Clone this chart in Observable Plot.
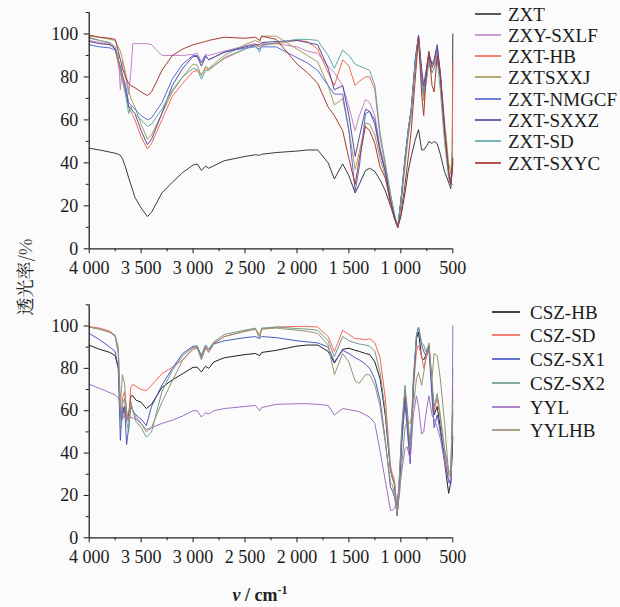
<!DOCTYPE html>
<html><head><meta charset="utf-8">
<script src="https://cdn.jsdelivr.net/npm/d3@7"></script>
<script src="https://cdn.jsdelivr.net/npm/@observablehq/plot@0.6"></script>
<style>
body{margin:0;background:#fbfbfb;}
#wrap{position:relative;width:620px;height:607px;font-family:"Liberation Serif",serif;color:#222;overflow:hidden;}
#wrap svg{position:absolute;left:0;display:block;}
#wrap svg text{font-family:"Liberation Serif",serif;}
.leg{position:absolute;display:flex;align-items:center;font-size:19px;line-height:1;white-space:nowrap;color:#1a1a1a;}
.leg .sw{display:inline-block;}
.ylab{position:absolute;font-size:18px;white-space:nowrap;transform:translate(-50%,-50%) rotate(-90deg);font-family:"Noto Serif CJK SC","Liberation Serif",serif;}
.xlab{position:absolute;font-size:18px;font-weight:bold;white-space:nowrap;transform:translate(-50%,-50%);}
</style></head>
<body><div id="wrap"></div>
<script>
// ---------- top panel ----------
const wnTop = [4000,3900,3800,3750,3720,3700,3680,3650,3620,3600,3580,3560,3500,3440,3400,3300,3200,3100,3000,2960,2920,2880,2850,2700,2500,2400,2360,2340,2200,2000,1900,1800,1700,1640,1560,1500,1440,1400,1340,1300,1250,1200,1150,1100,1060,1030,1000,960,930,900,860,830,800,780,750,730,700,680,650,620,580,540,520,505,500];
const ZXT = [46.8,46,45,44.5,44,43.5,42,38,33,30, 27,24,19,15,17,26,31,35.5,39,39.5, 36.5,38.5,37.5,41,43,43.8,43.5,44,44.8,45.5, 46,46,40,32.5,39.5,34,26,30,36.5,37.5, 36,32,27,20,14,10,15,26,36,43, 51,55.5,46,46,48,50,49,50,49,44, 36,31,28,45,100];
const ZXY_SXLF = [97,96,95,94,90,74,88,80,72,82, 95.5,95.5,95.5,95.5,95,90,90,90,90.5,91, 87,90.5,90,92,94.5,95.5,94,95.5,95.5,94, 92,91,85,82,76,66,55,62,69.5,68, 62,47,37,23,15,10,22,40,53,64, 88,99,82,74,84,91,84,86,93,82, 56,36,30,35,40];
const ZXT_HB = [98,97,95.5,93,86,82,78,72,66,64, 62,60,52,46.5,49,60,71,77,82.5,83, 81,84,83.5,88.5,93,95,94,95,95.5,97, 96.5,93,82,76,88,85,76,78,80,80, 74,52,39,24,15,10,22,42,55,65, 88,99,80,70,82,90,84,86,93,80, 55,35,30,40,87];
const ZXTSXXJ = [99,98.5,97.5,97,94,92,88,82,74,70, 68,66,58,51,53,63,73,80,86,85.5, 80.5,85,84,90,95,97,96,99,99,93, 90,87,76,67,70,55,37,45,58.5,58, 53,42,34,21,14,10,20,38,52,62, 86,98,78,69,80,88,82,84,90,82, 60,40,35,45,50];
const ZXT_NMGCF = [95,94,93.5,92.5,88,85,81,76,68,67, 66,65,62,60,61,68,79,86,90,90, 86.5,90,88,91.5,93.5,94,93,94,94,89, 86.5,83,76,72,72,55,27,38,63,64, 60,46,36,22,14,10,22,42,55,65, 89,99,80,72,83,91,85,87,94,80, 55,35,30,38,42];
const ZXT_SXXZ = [96.5,95.5,95,93,88,84,80,74,66,66, 64,63,55,48.5,51,63,76,84,89.5,89.5, 85,89.5,88,91.5,94,95,95,96,96.5,97, 96,95,84,74,76,62,43,52,65,64, 58,45,36,22,14,10,22,42,55,65, 88,99.5,84,76,85,91,86,88,95,82, 56,35,30,36,40];
const ZXT_SD = [98.5,97,96,94,88,84,80,72,63,66, 64,63,60,57,58,65,74,80,84,83.5, 79,83,83,89,93,94.5,91.5,94.5,96,97.5, 97.5,97,90,84,92.5,90,86,85,84,83, 76,54,40,26,16,10,22,42,55,65, 87,98,78,72,80,86,82,84,88,74, 50,33,29,30,30];
const ZXT_SXYC = [99.5,98.5,98,97.5,92,88,84,80,77,76, 75.5,75,73,71.3,73,83,90,93,95,95.5, 96,96.5,97,98.5,98,98.5,97,99,97.5,86, 82,77,66,62,55,42,30,42,57,55, 49,38,33,22,15,10,16,30,42,55, 80,98,72,62,85,92,76,73,90,80, 56,36,30,38,42];
const topNames = ["ZXT","ZXY-SXLF","ZXT-HB","ZXTSXXJ","ZXT-NMGCF","ZXT-SXXZ","ZXT-SD","ZXT-SXYC"];
const topSeries = [ZXT,ZXY_SXLF,ZXT_HB,ZXTSXXJ,ZXT_NMGCF,ZXT_SXXZ,ZXT_SD,ZXT_SXYC];
const topColors = ["#3a3a3a","#c386c6","#f26a55","#aa9d5e","#5a6ad2","#5a4c9c","#5ea9a9","#a83a30"];

// ---------- bottom panel ----------
const wnBot = [4000,3900,3800,3750,3720,3700,3690,3680,3660,3640,3620,3600,3580,3550,3500,3450,3400,3300,3200,3100,3000,2960,2920,2880,2850,2800,2700,2500,2400,2360,2340,2200,2000,1900,1800,1700,1640,1560,1500,1440,1400,1340,1300,1250,1200,1150,1100,1080,1060,1035,1010,990,960,940,910,880,850,830,800,780,760,730,700,680,650,620,580,540,520,505,500];
const CSZ_HB = [90.9,89,87.5,86,80,60,55,60,62,56, 58,67,67,65,64,61,63,71,74.5,77.5, 80.5,80.5,78.3,81,80,83,85,86.5,87,86, 87.5,88.5,90.5,91,91,88,82.5,89,89.5,88.5, 88,87,86.5,83,75,58,32,28,25,10.5, 30,50,68,58,38,72,94,97,85,84, 86,91,72,58,62,52,36,21,26,40, 48];
const CSZ_SD = [99.7,99,97.5,95.5,88,60,58,66,69,60, 55,71,72.5,71.5,70,69.5,72,77.5,80.5,84, 89.5,90,85,90,88,92,95,97.5,98.5,96, 98.5,99.5,99.8,99.8,99.5,95,88,98,96,94, 94,93.5,94,92,85,66,34,30,27,12, 32,52,70,60,40,70,88,91,86,80, 84,89,72,60,66,56,42,30,30,55, 70];
const CSZ_SX1 = [96.5,93.5,90,88,80,46,55,57,62,44, 52,62,60,58,56,53,62,72,80,87, 90.5,90.5,86,91,89,91.5,93,94.5,95,94, 95,94.5,93,92.5,92,90,83,88.5,87,85, 84,82,80,75,65,46,24,22,19,11, 25,45,64,52,35,72,95,99.5,91,88, 86,90,66,52,58,50,38,27,25,45, 60];
const CSZ_SX2 = [99.5,98.5,97,95,87,58,52,63,66,55, 50,64,60,55,52,47.5,50,69,79,86, 90,90.5,85,91,89,92.5,96,98,99,94, 99,99.5,98.8,98.5,98,93,85.5,95,93,92, 91.5,91,90.5,88,78,60,32,28,25,11, 33,53,72,62,42,75,96,99.5,92,91, 88,91,74,62,68,58,42,32,30,60, 80];
const YYL = [72.5,70.5,68.5,67.5,66,63,60,56,58,55, 56,57,56.5,56,54,51,52,54,55.5,57.5, 60,60,57,59,58.5,60,61,62,62.5,60, 61.5,63,63.3,63.3,63,62.5,58,61,60.5,60, 59.5,58,57,54,41,27,13,13,14,18, 25,32,42,43,37,58,67,62,49,50, 58,67,58,56,52,47,36,26,28,50, 100];
const YYLHB = [99.5,98.5,97,95.5,90,62,70,77,73,58, 55,64,60,57,54,50,52,64,74,84, 89,89.5,84,89.5,87.5,91.5,95,97.5,98.5,95, 98.5,99,98,97.5,96.5,91,77,87,83,74, 73,77,77,72,62,45,26,25,20,12, 22,35,52,55,54,62,75,78,72,78, 85,92,75,87,86,75,55,30,28,55, 65];
const botNames = ["CSZ-HB","CSZ-SD","CSZ-SX1","CSZ-SX2","YYL","YYLHB"];
const botSeries = [CSZ_HB,CSZ_SD,CSZ_SX1,CSZ_SX2,YYL,YYLHB];
const botColors = ["#222222","#f46a5a","#4a58c4","#6e9a8e","#a070c0","#9a9272"];

// ---------- axes ticks ----------
const xMajor = [4000,3500,3000,2500,2000,1500,1000,500];
const xMinor = [3750,3250,2750,2250,1750,1250,750];
const yMajor = [0,20,40,60,80,100];
const yMinor = [10,30,50,70,90,110];
const yTitle = "透光率/%";

function tidy(grid, names, series) {
  return names.flatMap((n, i) => grid.map((v, j) => ({v, t: series[i][j], s: n})));
}
const fmt = d => d >= 1000 ? `${Math.floor(d/1000)} ${String(d % 1000).padStart(3, "0")}` : String(d);

function panel(data, names, colors, height, mt, mb) {
  return Plot.plot({
    width: 620, height,
    marginLeft: 88.7, marginRight: 167.7, marginTop: mt, marginBottom: mb,
    style: {fontFamily: "Liberation Serif, serif", fontSize: "18px", color: "#1a1a1a", background: "transparent", overflow: "visible"},
    x: {domain: [4000, 500]},
    y: {domain: [0, 110]},
    color: {domain: names, range: colors},
    marks: [
      Plot.line(data, {x: "v", y: "t", z: "s", stroke: "s", strokeWidth: 1}),
      Plot.axisY({ticks: yMajor, tickSize: 5, tickPadding: 6, label: null}),
      Plot.axisY({ticks: yMinor, tickSize: 3, tickFormat: () => "", label: null}),
      Plot.axisX({ticks: xMajor, tickSize: 5, tickPadding: 7, tickFormat: fmt, label: null}),
      Plot.axisX({ticks: xMinor, tickSize: 3, tickFormat: () => "", label: null}),
      Plot.ruleY([0], {stroke: "#222", strokeWidth: 1.3}),
      Plot.ruleX([4000], {y1: 0, y2: 110, stroke: "#222", strokeWidth: 1.3})
    ]
  });
}

const wrap = document.getElementById("wrap");
const topSvg = panel(tidy(wnTop, topNames, topSeries), topNames, topColors, 280, 12, 31.7);
topSvg.style.top = "0px";
wrap.appendChild(topSvg);
const botSvg = panel(tidy(wnBot, botNames, botSeries), botNames, botColors, 327, 24.3, 69.7);
botSvg.style.top = "280px";
wrap.appendChild(botSvg);

function legend(names, colors, x0, swW, gap, y0, dy) {
  names.forEach((n, i) => {
    const d = document.createElement("div");
    d.className = "leg";
    d.style.left = x0 + "px";
    d.style.top = Math.round(y0 + i * dy - 10) + "px";
    d.style.height = "20px";
    const sw = document.createElement("span");
    sw.className = "sw";
    sw.style.width = swW + "px";
    sw.style.height = "2px";
    sw.style.background = colors[i];
    sw.style.opacity = "0.85";
    sw.style.marginRight = gap + "px";
    const t = document.createElement("span");
    t.textContent = n;
    d.appendChild(sw); d.appendChild(t);
    wrap.appendChild(d);
  });
}
legend(topNames, topColors, 475, 26, 7, 13.5, 21.3);
legend(botNames, botColors, 492, 28, 10, 311.7, 23.7);

const yl = document.createElement("div");
yl.className = "ylab"; yl.textContent = yTitle;
yl.style.left = "24px"; yl.style.top = "277px";
wrap.appendChild(yl);

const xl = document.createElement("div");
xl.className = "xlab";
xl.innerHTML = "<i>ν</i> / cm<sup style='font-size:12px'>-1</sup>";
xl.style.left = "260px"; xl.style.top = "594px";
wrap.appendChild(xl);
</script>
</body></html>
